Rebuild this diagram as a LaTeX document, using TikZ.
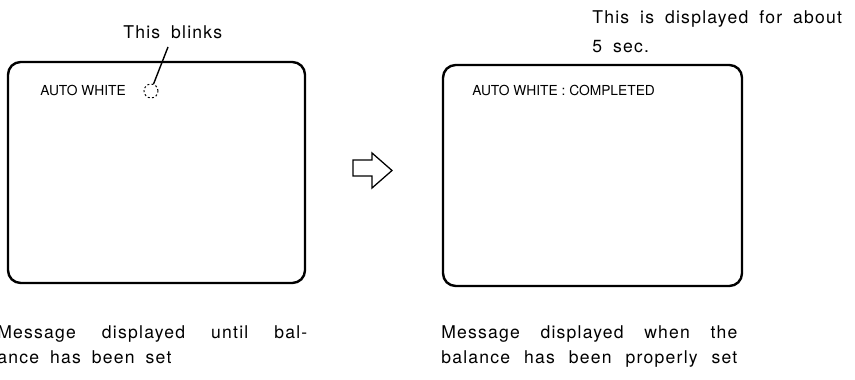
\documentclass[tikz,border=0pt]{standalone}
\usepackage{fontspec}
\setmainfont{TeX Gyre Heros}
\newfontfamily\notefont[LetterSpace=7,WordSpace=1.8]{TeX Gyre Heros}
\usetikzlibrary{calc}

\tikzset{
  screen/.style={draw, line width=1.7pt, rounded corners=9pt},
  note/.style={inner sep=0pt, anchor=base west, font=\notefont\fontsize{12.5}{14}\selectfont},
  osd/.style={inner sep=0pt, anchor=base west, font=\fontsize{9.8}{11}\selectfont},
  blinkdot/.style={circle, draw, dash pattern=on 1.4pt off 1.6pt, line width=0.7pt,
    minimum size=14*0.025cm, inner sep=0pt},
}

\begin{document}
\begin{tikzpicture}[x=0.025cm, y=-0.025cm]
  \useasboundingbox (0,0) rectangle (855,380);
  \clip (0,0) rectangle (855,380);

  % the two monitor screens
  \draw[screen] (8,62) rectangle (305,283);
  \draw[screen] (443,65) rectangle (742,286);

  % left screen: blinking message
  \node[osd] (autowhite) at (40,96) {AUTO WHITE};
  \node[blinkdot] (dot) at (151,91) {};
  \node[note] (blinks) at (123,39) {This blinks};
  \coordinate (tick) at (168,47);
  \draw[line width=1pt] (tick) -- (dot.70);

  % arrow between the screens
  \draw[line width=0.9pt, line join=miter]
    (353,160) -- (372,160) -- (372,153) -- (392,170.5)
    -- (372,188) -- (372,176) -- (353,176) -- cycle;

  % right screen: completed message
  \node[osd] (completed) at (472,96) {AUTO WHITE : COMPLETED};
  \node[note] (shown) at (592,24) {This is displayed for about};
  \node[note] (secs) at (592,53) {5 sec.};

  % captions
  \node[note] (capA) at (-3,338) {\makebox[7.75cm][s]{Message displayed until bal-}};
  \node[note] (capB) at (-3,363) {ance has been set};
  \node[note] (capC) at (441,338) {\makebox[7.4cm][s]{Message displayed when the}};
  \node[note] (capD) at (441,363) {\makebox[7.4cm][s]{balance has been properly set}};
\end{tikzpicture}
\end{document}
